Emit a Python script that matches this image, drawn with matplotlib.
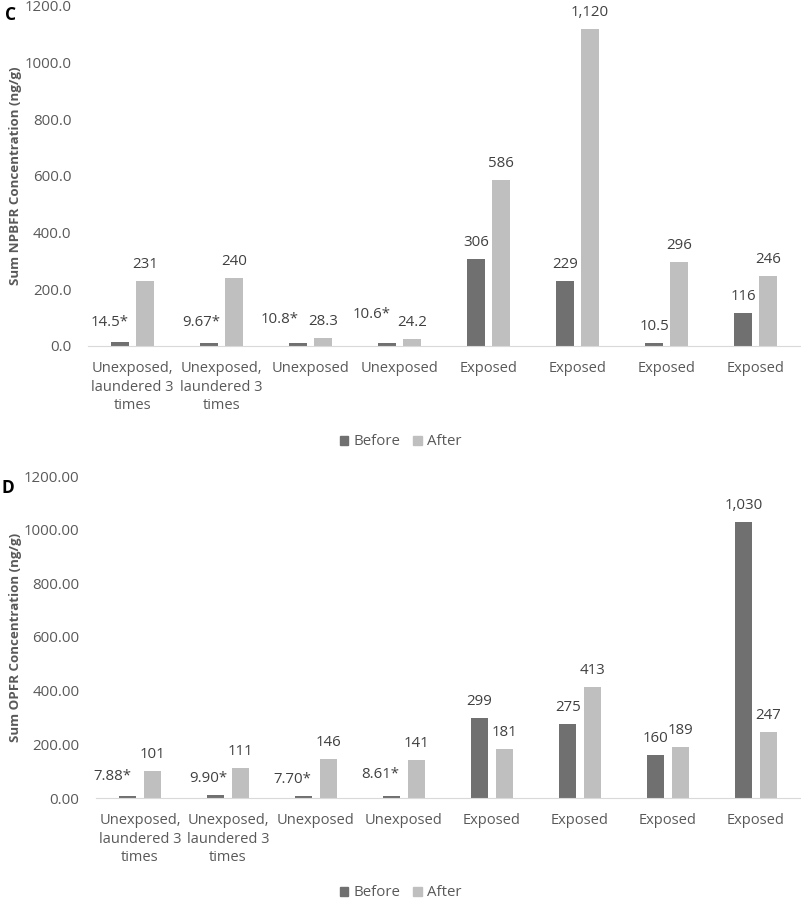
import matplotlib
matplotlib.use("Agg")
import matplotlib.pyplot as plt
from matplotlib.patches import Patch
import numpy as np

plt.rcParams['font.family'] = ['Open Sans', 'DejaVu Sans']

##############################
# DATA
##############################
categories = ["Unexposed,\nlaundered 3\ntimes", "Unexposed,\nlaundered 3\ntimes",
              "Unexposed", "Unexposed", "Exposed", "Exposed", "Exposed", "Exposed"]

npbfr_before = [14.5, 9.67, 10.8, 10.6, 306, 229, 10.5, 116]
npbfr_after = [231, 240, 28.3, 24.2, 586, 1120, 296, 246]
npbfr_before_labels = ["14.5*", "9.67*", "10.8*", "10.6*", "306", "229", "10.5", "116"]
npbfr_after_labels = ["231", "240", "28.3", "24.2", "586", "1,120", "296", "246"]

opfr_before = [7.88, 9.90, 7.70, 8.61, 299, 275, 160, 1030]
opfr_after = [101, 111, 146, 141, 181, 413, 189, 247]
opfr_before_labels = ["7.88*", "9.90*", "7.70*", "8.61*", "299", "275", "160", "1,030"]
opfr_after_labels = ["101", "111", "146", "141", "181", "413", "189", "247"]

# label nudges in pixels (dx, dy) where Excel moved labels apart
npbfr_before_nudge = {0: (-10, 3), 1: (-8, 4), 2: (-18, 7), 3: (-15, 12)}
opfr_before_nudge = {0: (-15, 3), 1: (-7, 0), 2: (-11, 0), 3: (-11, 5)}

BEFORE_COLOR = '#707070'
AFTER_COLOR = '#bfbfbf'
TEXT_COLOR = '#595959'
LABEL_COLOR = '#404040'
FS = 10.8


def px(v):
    # pixels -> points at 100 dpi
    return v * 72.0 / 100.0


def draw_panel(ax, before, after, before_labels, after_labels, nudge, ylabel, fmt):
    x = np.arange(len(categories))
    width = 0.2
    off = 0.14
    ax.bar(x - off, before, width, color=BEFORE_COLOR, label='Before')
    ax.bar(x + off, after, width, color=AFTER_COLOR, label='After')

    for i in range(len(x)):
        dx, dy = nudge.get(i, (0, 0))
        ax.annotate(before_labels[i], (x[i] - off, before[i]),
                    xytext=(px(dx), px(16.5 + dy)), textcoords='offset points',
                    ha='center', va='center', fontsize=FS, color=LABEL_COLOR)
        ax.annotate(after_labels[i], (x[i] + off, after[i]),
                    xytext=(0, px(16.5)), textcoords='offset points',
                    ha='center', va='center', fontsize=FS, color=LABEL_COLOR)

    ax.set_xlim(-0.5, len(x) - 0.5)
    ax.set_ylim(0, 1200)
    ax.set_yticks(np.arange(0, 1201, 200))
    ax.set_yticklabels([fmt % v for v in np.arange(0, 1201, 200)])
    ax.set_xticks(x)
    ax.set_xticklabels(categories, linespacing=1.32, fontsize=10.5)
    ax.tick_params(axis='y', length=0, labelsize=FS, colors=TEXT_COLOR, pad=12)
    ax.tick_params(axis='x', length=0, colors=TEXT_COLOR, pad=11)
    for s in ['top', 'right', 'left']:
        ax.spines[s].set_visible(False)
    ax.spines['bottom'].set_color('#d9d9d9')
    ax.set_ylabel(ylabel, fontsize=9.6, fontweight='bold', color=TEXT_COLOR)


fig = plt.figure(figsize=(8.01, 9), dpi=100)

ax1 = fig.add_axes([88 / 801, 1 - 346 / 900, 712 / 801, 340 / 900])
draw_panel(ax1, npbfr_before, npbfr_after, npbfr_before_labels, npbfr_after_labels,
           npbfr_before_nudge, 'Sum NPBFR Concentration (ng/g)', '%.1f')
ax1.yaxis.set_label_coords(-66 / 712, 0.5)

ax2 = fig.add_axes([96 / 801, 1 - 798 / 900, 704 / 801, 322 / 900])
draw_panel(ax2, opfr_before, opfr_after, opfr_before_labels, opfr_after_labels,
           opfr_before_nudge, 'Sum OPFR Concentration (ng/g)', '%.2f')
ax2.yaxis.set_label_coords(-74 / 704, 0.5)

handles = [Patch(color=BEFORE_COLOR, label='Before'), Patch(color=AFTER_COLOR, label='After')]
for ypos in [1 - 442 / 900, 1 - 893 / 900]:
    fig.legend(handles=handles, loc='center', bbox_to_anchor=(0.5, ypos), ncol=2,
               frameon=False, fontsize=FS, labelcolor=TEXT_COLOR,
               handlelength=0.55, handleheight=0.55, handletextpad=0.35, columnspacing=0.9)

fig.text(11 / 801, 1 - 15.5 / 900, 'C', fontsize=12.5, fontweight='bold', ha='center', va='center')
fig.text(8 / 801, 1 - 488 / 900, 'D', fontsize=12.5, fontweight='bold', ha='center', va='center')

plt.savefig('out.png', dpi=100)
plt.close()
